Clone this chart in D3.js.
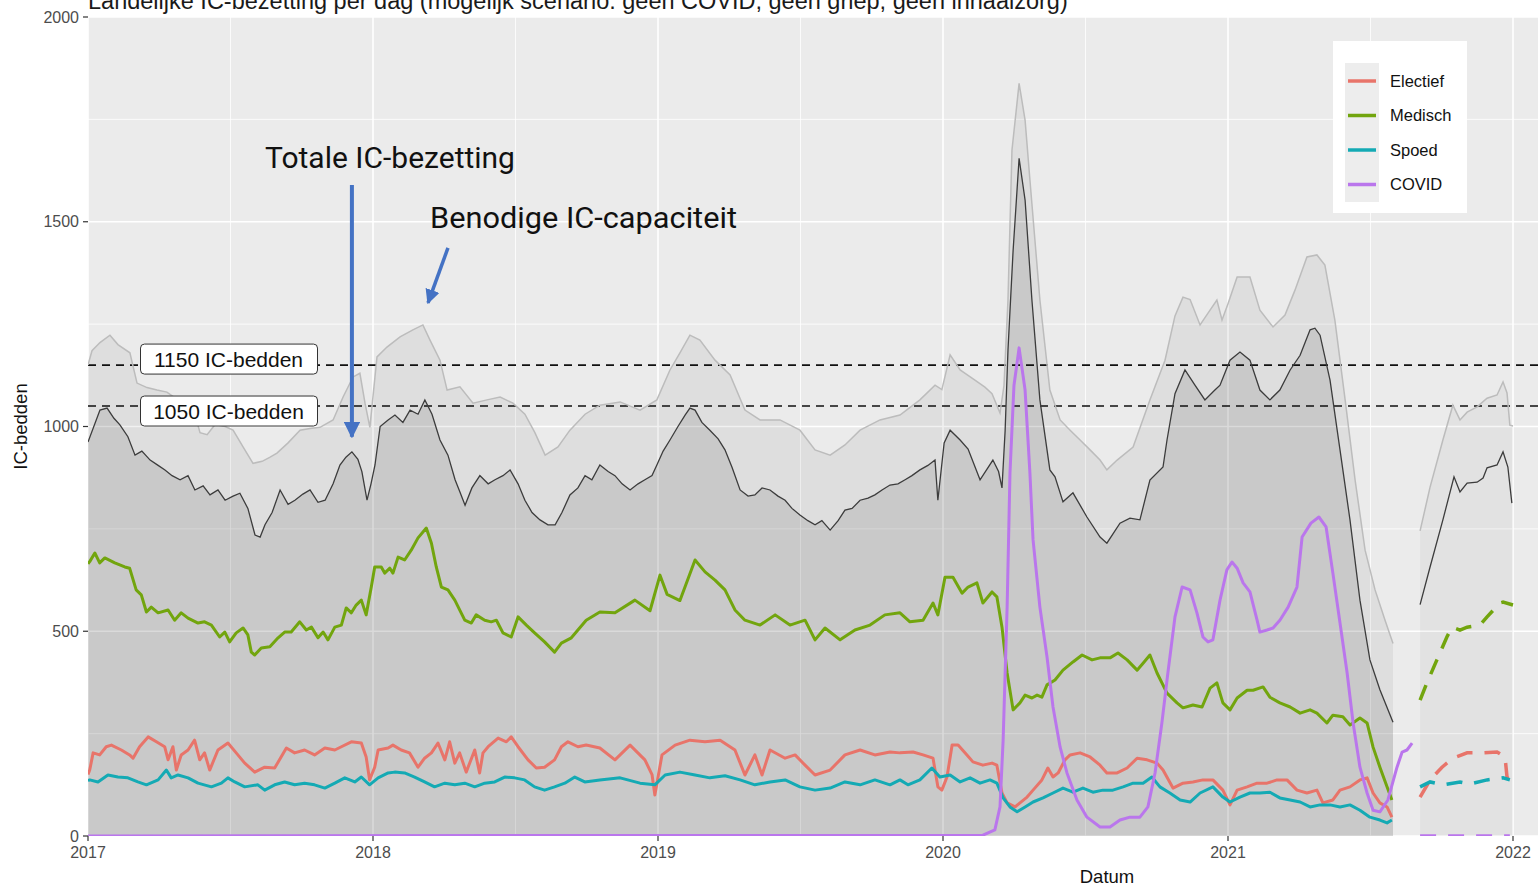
<!DOCTYPE html>
<html>
<head>
<meta charset="utf-8">
<script src="https://cdn.jsdelivr.net/npm/d3@7"></script>
<style>
  body { margin: 0; background: #fff; }
  svg { display: block; font-family: "Liberation Sans", Arial, sans-serif; }
</style>
</head>
<body>
<div id="chart"></div>
<script>
// values, [year, IC beds]
var capaciteit = [[2017.000,1150],[2017.014,1185],[2017.042,1205],[2017.077,1223],[2017.105,1200],[2017.147,1180],[2017.172,1106],[2017.207,1095],[2017.242,1089],[2017.277,1084],[2017.305,1070],[2017.340,1045],[2017.375,1030],[2017.393,985],[2017.418,980],[2017.446,1005],[2017.481,1000],[2017.509,991],[2017.544,950],[2017.579,910],[2017.611,915],[2017.639,925],[2017.663,935],[2017.702,960],[2017.744,991],[2017.779,995],[2017.814,998],[2017.860,1016],[2017.895,1072],[2017.930,1121],[2017.954,1130],[2017.972,1057],[2017.989,998],[2018.014,1170],[2018.049,1194],[2018.095,1219],[2018.140,1236],[2018.175,1248],[2018.200,1211],[2018.235,1162],[2018.260,1089],[2018.305,1097],[2018.351,1057],[2018.400,1065],[2018.446,1072],[2018.491,1057],[2018.533,1030],[2018.568,985],[2018.604,930],[2018.649,950],[2018.691,991],[2018.744,1030],[2018.796,1052],[2018.867,1060],[2018.937,1040],[2018.996,1065],[2019.042,1138],[2019.077,1180],[2019.112,1223],[2019.147,1211],[2019.200,1162],[2019.253,1126],[2019.305,1040],[2019.358,1016],[2019.428,1016],[2019.498,991],[2019.551,943],[2019.604,930],[2019.656,955],[2019.709,991],[2019.779,1016],[2019.849,1028],[2019.919,1065],[2019.972,1101],[2019.996,1090],[2020.025,1175],[2020.060,1138],[2020.112,1113],[2020.147,1096],[2020.172,1080],[2020.200,1033],[2020.214,1100],[2020.228,1309],[2020.242,1675],[2020.267,1838],[2020.288,1748],[2020.305,1602],[2020.340,1309],[2020.375,1089],[2020.411,1016],[2020.446,991],[2020.481,967],[2020.516,943],[2020.551,918],[2020.575,894],[2020.611,918],[2020.667,950],[2020.726,1065],[2020.779,1162],[2020.814,1270],[2020.842,1316],[2020.867,1310],[2020.902,1248],[2020.937,1284],[2020.961,1309],[2020.979,1260],[2021.000,1300],[2021.032,1365],[2021.077,1365],[2021.112,1284],[2021.158,1243],[2021.200,1272],[2021.235,1333],[2021.277,1414],[2021.312,1419],[2021.340,1394],[2021.375,1260],[2021.411,1065],[2021.446,869],[2021.481,698],[2021.516,601],[2021.551,527],[2021.579,470]]

var bezetting = [[2017.000,962],[2017.042,1040],[2017.067,1045],[2017.091,1020],[2017.112,1004],[2017.140,975],[2017.165,930],[2017.189,940],[2017.218,918],[2017.246,905],[2017.270,894],[2017.295,880],[2017.323,870],[2017.351,880],[2017.375,845],[2017.404,855],[2017.428,833],[2017.456,845],[2017.481,820],[2017.509,830],[2017.533,837],[2017.561,800],[2017.586,735],[2017.604,730],[2017.621,760],[2017.646,790],[2017.674,845],[2017.702,810],[2017.726,820],[2017.754,835],[2017.779,845],[2017.807,815],[2017.832,820],[2017.860,860],[2017.884,906],[2017.905,925],[2017.926,938],[2017.947,920],[2017.961,890],[2017.979,820],[2017.993,860],[2018.007,906],[2018.025,1000],[2018.053,1016],[2018.077,1028],[2018.105,1010],[2018.130,1040],[2018.158,1030],[2018.182,1065],[2018.207,1030],[2018.235,967],[2018.263,930],[2018.288,870],[2018.305,840],[2018.323,808],[2018.347,850],[2018.375,880],[2018.404,860],[2018.428,870],[2018.456,880],[2018.481,894],[2018.509,860],[2018.533,820],[2018.558,790],[2018.586,772],[2018.614,760],[2018.639,760],[2018.663,790],[2018.691,833],[2018.719,850],[2018.744,880],[2018.768,870],[2018.796,906],[2018.825,890],[2018.849,880],[2018.874,860],[2018.902,845],[2018.930,860],[2018.954,870],[2018.979,880],[2018.996,906],[2019.018,940],[2019.042,967],[2019.070,1000],[2019.095,1028],[2019.112,1045],[2019.130,1040],[2019.154,1010],[2019.182,991],[2019.211,970],[2019.235,943],[2019.260,900],[2019.288,845],[2019.316,830],[2019.340,833],[2019.365,850],[2019.393,845],[2019.421,830],[2019.446,820],[2019.470,800],[2019.498,784],[2019.526,770],[2019.551,760],[2019.575,770],[2019.604,747],[2019.632,770],[2019.656,796],[2019.681,800],[2019.709,820],[2019.737,825],[2019.761,833],[2019.786,845],[2019.814,857],[2019.842,860],[2019.867,870],[2019.891,880],[2019.919,894],[2019.947,905],[2019.972,918],[2019.982,820],[2020.004,960],[2020.025,991],[2020.060,967],[2020.088,945],[2020.130,870],[2020.175,918],[2020.195,890],[2020.207,850],[2020.218,990],[2020.228,1187],[2020.246,1430],[2020.267,1655],[2020.288,1553],[2020.312,1309],[2020.340,1065],[2020.375,894],[2020.393,877],[2020.421,816],[2020.456,838],[2020.505,779],[2020.551,730],[2020.575,715],[2020.621,764],[2020.656,776],[2020.691,772],[2020.726,869],[2020.772,901],[2020.786,967],[2020.814,1080],[2020.849,1138],[2020.884,1101],[2020.919,1065],[2020.954,1089],[2020.972,1101],[2021.007,1162],[2021.042,1182],[2021.077,1162],[2021.112,1089],[2021.147,1065],[2021.182,1089],[2021.218,1138],[2021.253,1174],[2021.288,1236],[2021.305,1240],[2021.323,1223],[2021.358,1113],[2021.393,943],[2021.428,772],[2021.463,576],[2021.498,430],[2021.533,357],[2021.579,278]]

var medisch = [[2017.000,665],[2017.006,670],[2017.024,691],[2017.041,667],[2017.059,679],[2017.094,667],[2017.129,657],[2017.146,654],[2017.169,601],[2017.187,589],[2017.205,547],[2017.222,559],[2017.246,545],[2017.281,552],[2017.304,527],[2017.327,545],[2017.351,532],[2017.386,520],[2017.409,523],[2017.433,515],[2017.462,486],[2017.480,498],[2017.497,474],[2017.520,496],[2017.544,508],[2017.561,491],[2017.573,449],[2017.585,442],[2017.608,459],[2017.638,462],[2017.667,484],[2017.690,498],[2017.713,498],[2017.743,523],[2017.766,503],[2017.784,510],[2017.807,484],[2017.825,498],[2017.842,479],[2017.866,510],[2017.889,515],[2017.906,557],[2017.924,545],[2017.941,564],[2017.959,576],[2017.976,540],[2017.994,608],[2018.006,657],[2018.029,657],[2018.041,642],[2018.059,654],[2018.070,642],[2018.088,681],[2018.111,674],[2018.134,698],[2018.158,728],[2018.187,752],[2018.205,715],[2018.222,657],[2018.240,608],[2018.263,601],[2018.287,576],[2018.322,527],[2018.345,520],[2018.362,540],[2018.392,527],[2018.415,523],[2018.433,527],[2018.456,496],[2018.485,486],[2018.509,535],[2018.538,515],[2018.567,496],[2018.602,474],[2018.637,449],[2018.661,471],[2018.696,484],[2018.719,503],[2018.748,527],[2018.796,547],[2018.849,545],[2018.919,576],[2018.972,550],[2019.007,637],[2019.032,590],[2019.077,575],[2019.130,674],[2019.165,645],[2019.200,625],[2019.235,601],[2019.270,552],[2019.305,527],[2019.358,515],[2019.411,540],[2019.463,515],[2019.516,527],[2019.551,479],[2019.586,508],[2019.639,479],[2019.691,503],[2019.744,515],[2019.796,540],[2019.849,545],[2019.884,523],[2019.930,527],[2019.965,569],[2019.982,540],[2020.007,632],[2020.035,632],[2020.067,593],[2020.088,608],[2020.119,618],[2020.140,569],[2020.172,596],[2020.189,584],[2020.207,510],[2020.225,398],[2020.246,308],[2020.270,325],[2020.288,344],[2020.312,337],[2020.330,344],[2020.347,339],[2020.365,369],[2020.393,381],[2020.421,405],[2020.456,425],[2020.488,442],[2020.523,430],[2020.551,435],[2020.586,435],[2020.614,447],[2020.646,430],[2020.681,405],[2020.702,422],[2020.726,442],[2020.751,398],[2020.786,349],[2020.821,325],[2020.842,313],[2020.877,320],[2020.909,315],[2020.937,361],[2020.961,374],[2020.982,325],[2021.007,308],[2021.032,337],[2021.067,356],[2021.088,356],[2021.123,364],[2021.147,339],[2021.182,325],[2021.218,315],[2021.253,300],[2021.288,308],[2021.312,300],[2021.347,276],[2021.368,295],[2021.403,291],[2021.428,271],[2021.463,288],[2021.488,276],[2021.509,217],[2021.533,168],[2021.558,120],[2021.575,88]]

var electief = [[2017.000,150],[2017.006,161],[2017.018,203],[2017.041,198],[2017.064,218],[2017.082,222],[2017.117,210],[2017.146,198],[2017.158,190],[2017.181,218],[2017.211,242],[2017.240,230],[2017.269,218],[2017.281,186],[2017.298,218],[2017.310,161],[2017.327,198],[2017.351,210],[2017.374,234],[2017.392,186],[2017.409,203],[2017.427,161],[2017.456,210],[2017.491,227],[2017.520,203],[2017.550,178],[2017.585,156],[2017.620,168],[2017.655,166],[2017.696,215],[2017.725,203],[2017.760,210],[2017.795,198],[2017.831,215],[2017.866,210],[2017.889,218],[2017.924,230],[2017.959,227],[2017.976,193],[2017.988,137],[2018.006,168],[2018.018,210],[2018.053,215],[2018.070,222],[2018.099,210],[2018.128,203],[2018.158,168],[2018.181,190],[2018.205,203],[2018.228,227],[2018.252,186],[2018.269,230],[2018.287,178],[2018.304,203],[2018.327,156],[2018.357,210],[2018.374,154],[2018.386,203],[2018.404,218],[2018.439,239],[2018.468,230],[2018.485,242],[2018.509,218],[2018.544,186],[2018.573,166],[2018.602,168],[2018.637,186],[2018.661,218],[2018.684,230],[2018.719,218],[2018.748,222],[2018.796,215],[2018.849,186],[2018.902,222],[2018.954,186],[2018.979,150],[2018.989,100],[2019.014,198],[2019.060,222],[2019.112,234],[2019.165,230],[2019.218,234],[2019.270,210],[2019.305,149],[2019.340,198],[2019.365,149],[2019.393,210],[2019.446,190],[2019.481,198],[2019.516,173],[2019.551,149],[2019.604,161],[2019.656,198],[2019.709,210],[2019.761,198],[2019.814,205],[2019.849,203],[2019.895,205],[2019.930,198],[2019.965,190],[2019.982,120],[2019.996,112],[2020.014,144],[2020.032,222],[2020.053,222],[2020.084,198],[2020.105,181],[2020.140,173],[2020.172,178],[2020.189,173],[2020.207,105],[2020.225,81],[2020.253,71],[2020.270,81],[2020.295,95],[2020.316,112],[2020.347,137],[2020.368,166],[2020.386,144],[2020.404,154],[2020.428,186],[2020.446,198],[2020.481,203],[2020.516,193],[2020.551,173],[2020.575,154],[2020.611,154],[2020.646,166],[2020.681,190],[2020.716,186],[2020.751,178],[2020.772,161],[2020.807,117],[2020.842,129],[2020.877,132],[2020.912,137],[2020.947,137],[2020.982,112],[2021.007,76],[2021.032,112],[2021.067,120],[2021.102,129],[2021.137,129],[2021.172,137],[2021.207,137],[2021.242,112],[2021.277,105],[2021.312,112],[2021.333,81],[2021.368,88],[2021.393,112],[2021.428,120],[2021.463,137],[2021.488,142],[2021.509,105],[2021.533,81],[2021.558,71],[2021.575,46]]

var spoed = [[2017.000,135],[2017.006,137],[2017.035,132],[2017.070,149],[2017.105,144],[2017.140,142],[2017.175,132],[2017.205,125],[2017.246,137],[2017.275,161],[2017.292,142],[2017.316,149],[2017.351,142],[2017.386,129],[2017.433,120],[2017.468,129],[2017.491,142],[2017.515,132],[2017.550,120],[2017.596,125],[2017.620,112],[2017.655,125],[2017.690,132],[2017.725,125],[2017.760,129],[2017.795,125],[2017.831,117],[2017.866,129],[2017.901,142],[2017.936,132],[2017.959,144],[2017.988,125],[2018.018,142],[2018.053,154],[2018.076,156],[2018.111,154],[2018.146,144],[2018.181,132],[2018.216,120],[2018.252,129],[2018.287,125],[2018.322,129],[2018.357,120],[2018.392,129],[2018.427,132],[2018.462,144],[2018.497,142],[2018.532,137],[2018.567,120],[2018.602,112],[2018.637,120],[2018.673,129],[2018.708,144],[2018.743,132],[2018.796,137],[2018.867,142],[2018.937,129],[2018.989,125],[2019.025,149],[2019.077,156],[2019.130,149],[2019.182,142],[2019.235,147],[2019.288,137],[2019.340,125],[2019.393,132],[2019.446,137],[2019.498,120],[2019.551,112],[2019.604,117],[2019.656,132],[2019.709,125],[2019.761,137],[2019.814,125],[2019.849,137],[2019.877,125],[2019.919,137],[2019.961,166],[2019.989,144],[2020.025,149],[2020.060,132],[2020.095,142],[2020.130,129],[2020.165,137],[2020.189,129],[2020.211,93],[2020.235,71],[2020.260,59],[2020.288,71],[2020.316,83],[2020.351,93],[2020.386,105],[2020.421,117],[2020.456,107],[2020.491,117],[2020.526,107],[2020.561,112],[2020.596,112],[2020.632,120],[2020.667,129],[2020.702,129],[2020.733,144],[2020.761,120],[2020.796,105],[2020.832,88],[2020.867,83],[2020.902,105],[2020.947,120],[2020.982,95],[2021.007,83],[2021.042,95],[2021.077,105],[2021.112,105],[2021.147,107],[2021.182,93],[2021.218,88],[2021.253,83],[2021.288,71],[2021.323,76],[2021.358,76],[2021.393,71],[2021.428,76],[2021.463,63],[2021.498,46],[2021.533,39],[2021.558,32],[2021.575,39]]

var covid = [[2017.000,0],[2020.140,2],[2020.182,15],[2020.200,71],[2020.211,234],[2020.225,559],[2020.235,886],[2020.249,1100],[2020.267,1192],[2020.288,1089],[2020.305,886],[2020.316,723],[2020.340,559],[2020.365,437],[2020.386,315],[2020.411,217],[2020.435,154],[2020.470,88],[2020.505,46],[2020.551,22],[2020.586,22],[2020.621,39],[2020.656,46],[2020.691,46],[2020.719,71],[2020.744,154],[2020.768,276],[2020.789,398],[2020.814,535],[2020.839,608],[2020.867,601],[2020.891,545],[2020.912,486],[2020.930,474],[2020.947,479],[2020.972,576],[2020.996,650],[2021.014,669],[2021.032,654],[2021.053,618],[2021.077,596],[2021.102,527],[2021.112,498],[2021.137,503],[2021.158,508],[2021.182,527],[2021.211,559],[2021.242,608],[2021.260,730],[2021.291,764],[2021.319,779],[2021.344,755],[2021.368,642],[2021.393,520],[2021.418,398],[2021.439,276],[2021.463,168],[2021.488,105],[2021.509,63],[2021.533,59],[2021.561,88],[2021.593,168],[2021.611,205],[2021.628,210],[2021.646,227]]

// scenario part (dashed)
var capaciteitPrognose = [[2021.674,745],[2021.709,852],[2021.754,967],[2021.789,1052],[2021.814,1016],[2021.839,1035],[2021.874,1048],[2021.909,1069],[2021.944,1077],[2021.965,1109],[2021.979,1082],[2021.989,1003],[2022.000,1001]]
var bezettingPrognose = [[2021.674,565],[2021.709,657],[2021.754,772],[2021.793,877],[2021.814,840],[2021.839,862],[2021.874,864],[2021.895,874],[2021.909,899],[2021.944,906],[2021.965,938],[2021.982,901],[2021.996,813]]
var medischPrognose = [[2021.674,332],[2021.698,374],[2021.733,430],[2021.768,486],[2021.786,510],[2021.814,503],[2021.839,510],[2021.884,515],[2021.909,535],[2021.954,569],[2021.965,571],[2022.000,564]]
var electiefPrognose = [[2021.674,95],[2021.709,137],[2021.751,168],[2021.789,190],[2021.839,203],[2021.895,203],[2021.944,205],[2021.972,193],[2021.979,144],[2021.989,137]]
var spoedPrognose = [[2021.674,120],[2021.709,132],[2021.754,125],[2021.814,132],[2021.849,127],[2021.909,137],[2021.965,142],[2021.989,137]]
var covidPrognose = [[2021.674,0],[2021.989,0]]

var categorieen = ["Electief", "Medisch", "Spoed", "COVID"]
var kleuren = ["#E8746A", "#72A50E", "#14AAB4", "#BA76EC"]
var jaren = [2017, 2018, 2019, 2020, 2021, 2022]
var yTicks = [0, 500, 1000, 1500, 2000]
var drempels = [1150, 1050]

var width = 1538
var height = 886

var x = d3.scaleLinear().domain([2017, 2022]).range([88, 1513])
var y = d3.scaleLinear().domain([0, 2000]).range([836, 17])
var color = d3.scaleOrdinal().domain(categorieen).range(kleuren)

var svg = d3.select("#chart")
  .append("svg")
    .attr("width", width)
    .attr("height", height)

var panelLeft = x(2017), panelRight = width, panelTop = y(2000), panelBottom = y(0)

svg.append("clipPath").attr("id", "clip")
  .append("rect")
    .attr("x", panelLeft).attr("y", panelTop)
    .attr("width", panelRight - panelLeft).attr("height", panelBottom - panelTop)

// title, the picture only shows its lower part
svg.append("text")
  .attr("x", 88).attr("y", 9)
  .style("font-size", "23.5px").style("fill", "#1a1a1a")
  .text("Landelijke IC-bezetting per dag (mogelijk scenario: geen COVID, geen griep, geen inhaalzorg)")

var panel = svg.append("g").attr("clip-path", "url(#clip)")
panel.append("rect")
  .attr("x", panelLeft).attr("y", panelTop)
  .attr("width", panelRight - panelLeft).attr("height", panelBottom - panelTop)
  .attr("fill", "#EBEBEB")

// grid: minor then major
var minorX = jaren.map(function(j) { return j + 0.5 })
var minorY = [250, 750, 1250, 1750]
panel.selectAll(".minx").data(minorX).enter().append("line")
  .attr("x1", d => x(d)).attr("x2", d => x(d)).attr("y1", panelTop).attr("y2", panelBottom)
  .attr("stroke", "#fff").attr("stroke-width", 0.8)
panel.selectAll(".miny").data(minorY).enter().append("line")
  .attr("x1", panelLeft).attr("x2", panelRight).attr("y1", d => y(d)).attr("y2", d => y(d))
  .attr("stroke", "#fff").attr("stroke-width", 0.8)
panel.selectAll(".majx").data(jaren).enter().append("line")
  .attr("x1", d => x(d)).attr("x2", d => x(d)).attr("y1", panelTop).attr("y2", panelBottom)
  .attr("stroke", "#fff").attr("stroke-width", 1.6)
panel.selectAll(".majy").data(yTicks).enter().append("line")
  .attr("x1", panelLeft).attr("x2", panelRight).attr("y1", d => y(d)).attr("y2", d => y(d))
  .attr("stroke", "#fff").attr("stroke-width", 1.6)

var area = d3.area().x(d => x(d[0])).y0(y(0)).y1(d => y(d[1]))
var line = d3.line().x(d => x(d[0])).y(d => y(d[1]))

// shaded areas (semi transparent so the grid shows faintly through)
panel.append("path").datum(capaciteit).attr("d", area).attr("fill", "#000").attr("fill-opacity", 0.056)
panel.append("path").datum(bezetting).attr("d", area).attr("fill", "#000").attr("fill-opacity", 0.095)
panel.append("path").datum(capaciteitPrognose).attr("d", area).attr("fill", "#000").attr("fill-opacity", 0.035)

// capacity thresholds
panel.selectAll(".drempel").data(drempels).enter().append("line")
  .attr("x1", panelLeft).attr("x2", panelRight).attr("y1", d => y(d)).attr("y2", d => y(d))
  .attr("stroke", "#111").attr("stroke-width", 1.6).attr("stroke-dasharray", "8,6")

// totals
panel.append("path").datum(capaciteit).attr("d", line).attr("fill", "none").attr("stroke", "#bcbcbc").attr("stroke-width", 1.5)
panel.append("path").datum(capaciteitPrognose).attr("d", line).attr("fill", "none").attr("stroke", "#bcbcbc").attr("stroke-width", 1.5)
panel.append("path").datum(bezetting).attr("d", line).attr("fill", "none").attr("stroke", "#3c3c3c").attr("stroke-width", 1.3)
panel.append("path").datum(bezettingPrognose).attr("d", line).attr("fill", "none").attr("stroke", "#3c3c3c").attr("stroke-width", 1.3)

// per category
var reeksen = [
  {naam: "Electief", data: electief, prognose: electiefPrognose},
  {naam: "Medisch", data: medisch, prognose: medischPrognose},
  {naam: "Spoed", data: spoed, prognose: spoedPrognose},
  {naam: "COVID", data: covid, prognose: covidPrognose}
]
reeksen.forEach(function(r) {
  panel.append("path").datum(r.data).attr("d", line)
    .attr("fill", "none").attr("stroke", color(r.naam)).attr("stroke-width", 3)
    .attr("stroke-linejoin", "round")
  panel.append("path").datum(r.prognose).attr("d", line)
    .attr("fill", "none").attr("stroke", color(r.naam)).attr("stroke-width", 3.5)
    .attr("stroke-dasharray", "16,12")
})

// axes
var yAxis = svg.append("g")
yAxis.selectAll("line").data(yTicks).enter().append("line")
  .attr("x1", panelLeft - 5).attr("x2", panelLeft).attr("y1", d => y(d)).attr("y2", d => y(d))
  .attr("stroke", "#333").attr("stroke-width", 1.2)
yAxis.selectAll("text").data(yTicks).enter().append("text")
  .attr("x", panelLeft - 9).attr("y", d => y(d)).attr("dy", "0.35em")
  .attr("text-anchor", "end").style("font-size", "16px").style("fill", "#4d4d4d")
  .text(d => d)

var xAxis = svg.append("g")
xAxis.selectAll("line").data(jaren).enter().append("line")
  .attr("x1", d => x(d)).attr("x2", d => x(d)).attr("y1", panelBottom).attr("y2", panelBottom + 5)
  .attr("stroke", "#333").attr("stroke-width", 1.2)
xAxis.selectAll("text").data(jaren).enter().append("text")
  .attr("x", d => x(d)).attr("y", panelBottom + 22)
  .attr("text-anchor", "middle").style("font-size", "16px").style("fill", "#4d4d4d")
  .text(d => d)

svg.append("text")
  .attr("x", 1107).attr("y", 883)
  .attr("text-anchor", "middle").style("font-size", "18.5px").style("fill", "#111")
  .text("Datum")
svg.append("text")
  .attr("transform", "translate(27," + y(1000) + ") rotate(-90)")
  .attr("text-anchor", "middle").style("font-size", "18.5px").style("fill", "#111")
  .text("IC-bedden")

// threshold labels (1150 sits just above its line, 1050 just below)
var labelOffset = {1150: -6, 1050: 5}
drempels.forEach(function(d) {
  var g = svg.append("g").attr("transform", "translate(" + x(2017.493) + "," + (y(d) + labelOffset[d]) + ")")
  g.append("rect").attr("x", -88).attr("y", -15).attr("width", 177).attr("height", 30)
    .attr("rx", 4).attr("fill", "#fff").attr("stroke", "#333").attr("stroke-width", 1)
  g.append("text").attr("text-anchor", "middle").attr("dy", "0.36em")
    .style("font-size", "21px").style("fill", "#111")
    .text(d + " IC-bedden")
})

// legend
var legend = svg.append("g").attr("transform", "translate(1333,41)")
legend.append("rect").attr("width", 134).attr("height", 172).attr("fill", "#fff")
legend.append("rect").attr("x", 12).attr("y", 22).attr("width", 34).attr("height", 139).attr("fill", "#EDEDED")
categorieen.forEach(function(c, i) {
  var yy = 40 + i * 34.5
  legend.append("line").attr("x1", 15).attr("x2", 43).attr("y1", yy).attr("y2", yy)
    .attr("stroke", color(c)).attr("stroke-width", 3.5)
  legend.append("text").attr("x", 57).attr("y", yy).attr("dy", "0.36em")
    .style("font-size", "16.5px").style("fill", "#111").text(c)
})

// annotations
var blauw = "#4472C4"
svg.append("defs").append("marker")
  .attr("id", "pijl").attr("viewBox", "0 0 10 10").attr("refX", 9).attr("refY", 5)
  .attr("markerWidth", 4.2).attr("markerHeight", 4.2).attr("orient", "auto")
  .append("path").attr("d", "M0,0 L10,5 L0,10 z").attr("fill", blauw)

svg.append("text")
  .attr("x", x(2017.621)).attr("y", y(1631))
  .style("font-family", "Roboto, 'Open Sans', sans-serif").style("font-size", "29px").style("fill", "#111")
  .attr("textLength", 250).attr("lengthAdjust", "spacingAndGlyphs")
  .text("Totale IC-bezetting")
svg.append("line")
  .attr("x1", x(2017.926)).attr("y1", y(1590)).attr("x2", x(2017.926)).attr("y2", y(975))
  .attr("stroke", blauw).attr("stroke-width", 4).attr("marker-end", "url(#pijl)")

svg.append("text")
  .attr("x", x(2018.2)).attr("y", y(1485))
  .style("font-family", "Roboto, 'Open Sans', sans-serif").style("font-size", "29px").style("fill", "#111")
  .attr("textLength", 307).attr("lengthAdjust", "spacingAndGlyphs")
  .text("Benodige IC-capaciteit")
svg.append("line")
  .attr("x1", x(2018.263)).attr("y1", y(1436)).attr("x2", x(2018.193)).attr("y2", y(1302))
  .attr("stroke", blauw).attr("stroke-width", 3.5).attr("marker-end", "url(#pijl)")
</script>
</body>
</html>
